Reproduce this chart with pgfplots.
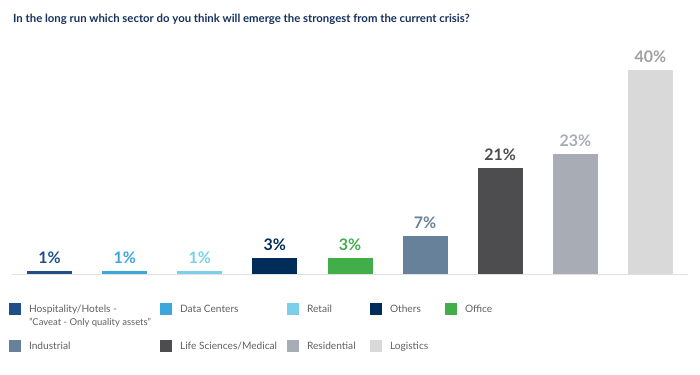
\documentclass[border=0pt]{standalone}
\usepackage{fontspec}
\setmainfont{Lato}
\usepackage{pgfplots}
\pgfplotsset{compat=1.18}
\definecolor{c1}{HTML}{1F4E89}
\definecolor{c2}{HTML}{3BA7DA}
\definecolor{c3}{HTML}{7ACFEA}
\definecolor{c4}{HTML}{002C59}
\definecolor{c5}{HTML}{41AE4A}
\definecolor{c6}{HTML}{67819B}
\definecolor{c7}{HTML}{4D4D4F}
\definecolor{c8}{HTML}{A8ACB4}
\definecolor{c9}{HTML}{D9D9D9}
\definecolor{l9}{HTML}{A0A0A0}
\definecolor{titlec}{HTML}{16325C}
\definecolor{legc}{HTML}{606060}
\begin{document}
\begin{tikzpicture}[x=1bp,y=1bp]
\path[use as bounding box] (0,0) rectangle (700,374);
\node[anchor=base west, inner sep=0pt, font=\bfseries\fontsize{11.4}{14}\selectfont, text=titlec] at (13,352) {In the long run which sector do you think will emerge the strongest from the current crisis?};
\begin{axis}[
  at={(12bp,100bp)}, anchor=south west,
  scale only axis, width=676bp, height=204bp,
  xmin=-0.5, xmax=8.5, ymin=0, ymax=40,
  ybar, bar width=45bp, bar shift=0pt,
  axis x line=bottom, axis y line=none, xtick=\empty,
  x axis line style={-, draw=black!12, line width=1bp},
  nodes near coords, point meta=explicit symbolic,
  every node near coord/.append style={font=\bfseries\fontsize{16}{16}\selectfont, anchor=base, yshift=7.5bp, inner sep=0pt},
  clip=false,
  legend columns=5,
  legend cell align=left,
  legend image code/.code={\fill[#1] (0bp,-2.5bp) rectangle (12bp,9.5bp);},
  legend style={at={(-0.0044,-0.1445)}, anchor=north west, draw=none, fill=none,
    inner sep=0pt, outer sep=0pt, row sep=25bp, column sep=0pt,
    nodes={inner sep=0pt, text=legc, font=\fontsize{10.2}{13}\selectfont}},
]
\addplot[fill=c1, draw=none, every node near coord/.append style={text=c1}] coordinates {(0,0.6) [1\%]};
\addlegendentry{\smash{\parbox[t]{139bp}{\hspace*{8bp}Hospitality/Hotels -\\[2bp]\hspace*{8bp}\fontsize{9.5}{11}\selectfont"Caveat - Only quality assets"}}}
\addplot[fill=c2, draw=none, every node near coord/.append style={text=c2}] coordinates {(1,0.6) [1\%]};
\addlegendentry{\smash{\makebox[115bp][l]{\hspace*{8bp}Data Centers}}}
\addplot[fill=c3, draw=none, every node near coord/.append style={text=c3}] coordinates {(2,0.6) [1\%]};
\addlegendentry{\smash{\makebox[71bp][l]{\hspace*{8bp}Retail}}}
\addplot[fill=c4, draw=none, every node near coord/.append style={text=c4}] coordinates {(3,3.2) [3\%]};
\addlegendentry{\smash{\makebox[63bp][l]{\hspace*{8bp}Others}}}
\addplot[fill=c5, draw=none, every node near coord/.append style={text=c5}] coordinates {(4,3.2) [3\%]};
\addlegendentry{\smash{\makebox[60bp][l]{\hspace*{8bp}Office}}}
\addplot[fill=c6, draw=none, every node near coord/.append style={text=c6}] coordinates {(5,7.4) [7\%]};
\addlegendentry{\smash{\makebox[139bp][l]{\hspace*{8bp}Industrial}}}
\addplot[fill=c7, draw=none, every node near coord/.append style={text=c7}] coordinates {(6,20.8) [21\%]};
\addlegendentry{\smash{\makebox[115bp][l]{\hspace*{8bp}Life Sciences/Medical}}}
\addplot[fill=c8, draw=none, every node near coord/.append style={text=c8}] coordinates {(7,23.5) [23\%]};
\addlegendentry{\smash{\makebox[71bp][l]{\hspace*{8bp}Residential}}}
\addplot[fill=c9, draw=none, every node near coord/.append style={text=l9}] coordinates {(8,40) [40\%]};
\addlegendentry{\smash{\makebox[63bp][l]{\hspace*{8bp}Logistics}}}
\end{axis}
\end{tikzpicture}
\end{document}
